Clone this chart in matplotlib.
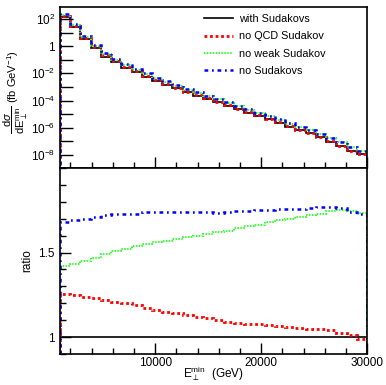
import numpy as np
import matplotlib
matplotlib.use("Agg")
import matplotlib.pyplot as plt
from matplotlib.ticker import FixedLocator, MultipleLocator, FuncFormatter

plt.rcParams['font.family'] = ['Liberation Sans', 'DejaVu Sans']
plt.rcParams['mathtext.fontset'] = 'custom'
plt.rcParams['mathtext.rm'] = 'Liberation Sans'
plt.rcParams['mathtext.it'] = 'Liberation Sans:italic'

# binning: 30 bins from 1000 to 30000 GeV
edges = np.linspace(1000, 30000, 31)

# log10 of dsigma/dE (with Sudakovs)
log_with = [2.12, 1.39, 0.51, -0.15, -0.77, -1.18, -1.58, -1.92, -2.24, -2.56,
            -2.82, -3.10, -3.39, -3.64, -3.88, -4.13, -4.37, -4.64, -4.89, -5.12,
            -5.38, -5.63, -5.92, -6.16, -6.40, -6.70, -7.02, -7.32, -7.68, -7.95]

# ratios to "with Sudakovs"
ratio_noqcd = [1.255, 1.25, 1.24, 1.23, 1.22, 1.21, 1.20, 1.19, 1.175, 1.16,
               1.15, 1.14, 1.13, 1.12, 1.11, 1.10, 1.09, 1.085, 1.08, 1.075,
               1.07, 1.065, 1.06, 1.055, 1.05, 1.045, 1.04, 1.025, 1.01, 0.99]
ratio_noweak = [1.42, 1.43, 1.45, 1.47, 1.49, 1.51, 1.52, 1.54, 1.55, 1.565,
                1.57, 1.58, 1.59, 1.60, 1.61, 1.62, 1.63, 1.645, 1.655, 1.665,
                1.68, 1.69, 1.70, 1.71, 1.72, 1.73, 1.745, 1.75, 1.745, 1.735]
ratio_none = [1.68, 1.69, 1.70, 1.71, 1.72, 1.73, 1.73, 1.73, 1.74, 1.74,
              1.74, 1.74, 1.74, 1.74, 1.74, 1.735, 1.74, 1.745, 1.745, 1.75,
              1.75, 1.755, 1.755, 1.76, 1.765, 1.77, 1.77, 1.765, 1.74, 1.73]

labels = ['with Sudakovs', 'no QCD Sudakov', 'no weak Sudakov', 'no Sudakovs']

with_sud = 10 ** np.array(log_with)
styles = [
    dict(color='black', ls='-', lw=1.2),
    dict(color='#ff0000', ls=(0, (1.0, 1.0)), lw=2.0),
    dict(color='#33ff33', ls=(0, (0.7, 0.7)), lw=1.5),
    dict(color='#0000ff', ls=(0, (1.5, 1.5, 0.7, 1.5)), lw=1.8),
]
ratios = [np.ones(30), np.array(ratio_noqcd), np.array(ratio_noweak), np.array(ratio_none)]

fig = plt.figure(figsize=(3.86, 3.85), dpi=100)
ax1 = fig.add_axes([0.155, 0.5636, 0.796, 0.4182])
ax2 = fig.add_axes([0.155, 0.0805, 0.796, 0.4831])

for lab, st, r in zip(labels, styles, ratios):
    ax1.stairs(with_sud * r, edges, label=lab, **st)
for st, r in zip(styles, ratios):
    ax2.stairs(r, edges, **st)

fs = 8.5
ax1.set_yscale('log')
ax1.set_ylim(1.1e-9, 760)
ax1.set_xlim(1000, 30000)
ax1.yaxis.set_major_locator(FixedLocator([10.0 ** k for k in range(-9, 4)]))
ax1.yaxis.set_minor_locator(FixedLocator([]))


def logfmt(v, pos):
    k = int(round(np.log10(v)))
    if k % 2:
        return ''
    if k == 0:
        return '1'
    return r'$10^{%d}$' % k


ax1.yaxis.set_major_formatter(FuncFormatter(logfmt))
ax1.set_xticklabels([])
ax1.set_ylabel(r'$\dfrac{\mathrm{d}\sigma}{\mathrm{dE}_{\perp}^{\mathrm{min}}}$'
               r' (fb GeV$^{-1}$)', fontsize=8.0)
ax1.yaxis.set_label_coords(-0.097, 0.47)

ax2.set_xlim(1000, 30000)
ax2.set_ylim(0.9, 2.0)
ax2.yaxis.set_major_locator(FixedLocator([1.0, 1.5]))
ax2.yaxis.set_minor_locator(MultipleLocator(0.1))
ax2.yaxis.set_major_formatter(FuncFormatter(lambda v, p: '%g' % v))
ax2.set_ylabel('ratio', fontsize=fs)
ax2.set_xlabel(r'E$_{\perp}^{\rm min}$  (GeV)', fontsize=fs, labelpad=-3)

for ax in (ax1, ax2):
    ax.xaxis.set_major_locator(MultipleLocator(10000))
    ax.xaxis.set_minor_locator(MultipleLocator(2000))
    ax.tick_params(which='both', direction='in', top=False, right=False,
                   labelsize=fs, width=1.0)
    ax.tick_params(which='major', length=8)
    ax.tick_params(which='minor', length=4)
    for s in ax.spines.values():
        s.set_linewidth(1.2)
ax1.tick_params(axis='y', which='major', length=9)
ax2.tick_params(axis='x', which='major', pad=2)

leg = ax1.legend(loc='upper left', frameon=False, fontsize=7.8,
                 handlelength=2.6, handletextpad=0.55, labelspacing=0.66,
                 borderaxespad=0.0, borderpad=0.3, bbox_to_anchor=(0.46, 0.975))

fig.savefig('out.png', dpi=100)
